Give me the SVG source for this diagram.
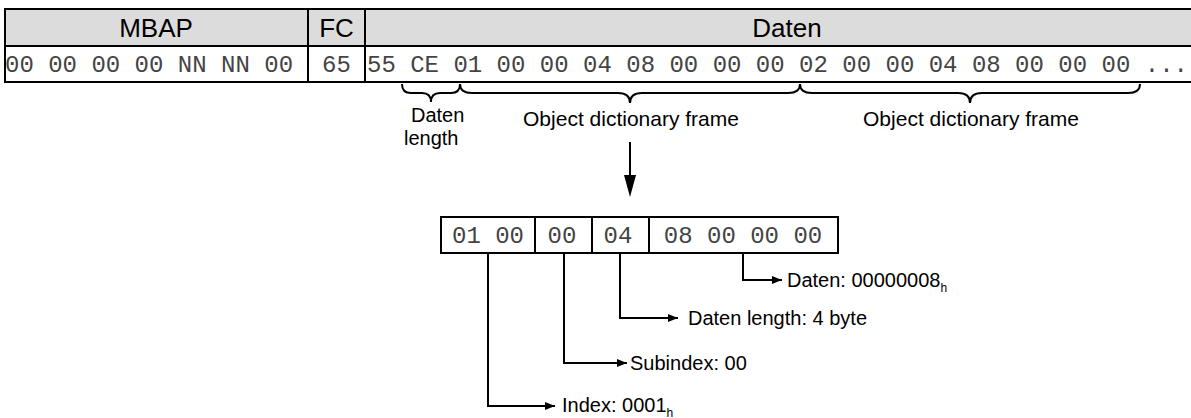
<svg xmlns="http://www.w3.org/2000/svg" width="1191" height="418" viewBox="0 0 1191 418">
<style>
.hdr{fill:#dcdcdc;stroke:#000;stroke-width:2}
.cell{fill:#fff;stroke:#000;stroke-width:2}
.ln{fill:none;stroke:#000;stroke-width:2}
.sans{font-family:"Liberation Sans",Arial,sans-serif;fill:#000}
.mono{font-family:"Liberation Mono","Courier New",monospace;font-size:24px;fill:#444}
.h{font-size:26px}
.lbl{font-size:21px}
.bl{font-size:20px}
.sub{font-size:12px;fill:#000}
</style>
<defs>
<marker id="ah" markerUnits="userSpaceOnUse" markerWidth="12" markerHeight="8" refX="10" refY="4" orient="auto">
<path d="M0,0 L10,4 L0,8 Z" fill="#000"/>
</marker>
</defs>
<g id="table">
<rect class="hdr" x="5" y="9" width="1190" height="37"/>
<rect class="cell" x="5" y="46" width="1190" height="36"/>
<line class="ln" x1="308" y1="9" x2="308" y2="82"/>
<line class="ln" x1="365" y1="9" x2="365" y2="82"/>
<text class="sans h" x="156" y="37" text-anchor="middle">MBAP</text>
<text class="sans h" x="336.5" y="37" text-anchor="middle">FC</text>
<text class="sans h" x="787" y="37" text-anchor="middle">Daten</text>
<text class="mono" x="5" y="72" xml:space="preserve">00 00 00 00 NN NN 00</text>
<text class="mono" x="336.5" y="72" text-anchor="middle">65</text>
<text class="mono" x="367" y="72" xml:space="preserve">55 CE 01 00 00 04 08 00 00 00 02 00 00 04 08 00 00 00 ...</text>
</g>
<g id="braces">
<path class="ln" d="M402,84 Q402,93 411,93 L422,93 Q431,93 431,102 Q431,93 440,93 L451,93 Q460,93 460,84"/>
<path class="ln" d="M460,84 Q460,93 472,93 L618,93 Q630,93 630,103 Q630,93 642,93 L788,93 Q800,93 800,84"/>
<path class="ln" d="M800,84 Q800,93 812,93 L958,93 Q970,93 970,103 Q970,93 982,93 L1128,93 Q1140,93 1140,84"/>
</g>
<g id="brace-labels">
<text class="sans bl" x="411" y="122">Daten</text>
<text class="sans bl" x="404" y="145">length</text>
<text class="sans lbl" x="631" y="126" text-anchor="middle">Object dictionary frame</text>
<text class="sans lbl" x="971" y="126" text-anchor="middle">Object dictionary frame</text>
</g>
<g id="expand-arrow">
<line class="ln" x1="630" y1="142" x2="630" y2="178"/>
<polygon points="624,175 636,175 630,197" fill="#000"/>
</g>
<g id="frame">
<rect class="cell" x="441" y="217" width="397" height="36"/>
<line class="ln" x1="535" y1="217" x2="535" y2="253"/>
<line class="ln" x1="592" y1="217" x2="592" y2="253"/>
<line class="ln" x1="649" y1="217" x2="649" y2="253"/>
<text class="mono" x="488" y="243" text-anchor="middle" xml:space="preserve">01 00</text>
<text class="mono" x="562" y="243" text-anchor="middle">00</text>
<text class="mono" x="618" y="243" text-anchor="middle">04</text>
<text class="mono" x="743" y="243" text-anchor="middle" xml:space="preserve">08 00 00 00</text>
</g>
<g id="connectors">
<path class="ln" d="M488,253 V406 H555" marker-end="url(#ah)"/>
<path class="ln" d="M564,253 V363 H627" marker-end="url(#ah)"/>
<path class="ln" d="M620,253 V318 H678" marker-end="url(#ah)"/>
<path class="ln" d="M743,253 V280 H782" marker-end="url(#ah)"/>
</g>
<g id="labels">
<text class="sans bl" x="787" y="287">Daten: 00000008<tspan class="sub" dy="5">h</tspan></text>
<text class="sans bl" x="688" y="325">Daten length: 4 byte</text>
<text class="sans bl" x="630" y="370">Subindex: 00</text>
<text class="sans bl" x="562" y="412">Index: 0001<tspan class="sub" dy="5">h</tspan></text>
</g>
</svg>
